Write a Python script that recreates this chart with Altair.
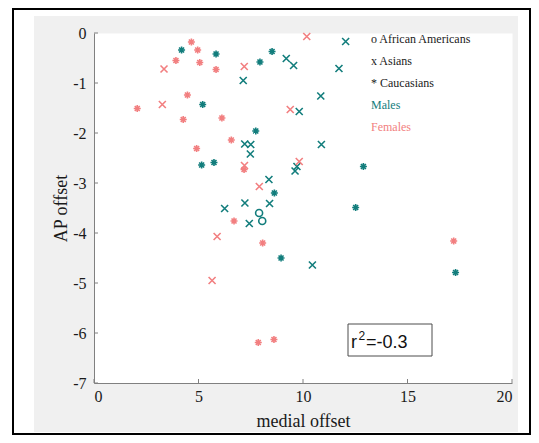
import altair as alt
import pandas as pd

TEAL = "#127d7c"
PINK = "#f27f80"
AXC = "#808080"
SERIF = "Liberation Serif"
SANS = "Liberation Sans"

# ---- data ----
male_cauc_x = [4.19, 5.84, 8.52, 7.94, 5.20, 7.74, 5.15, 5.74, 8.63, 8.95, 12.52, 17.30, 12.89]
male_cauc_y = [-0.34, -0.42, -0.37, -0.58, -1.43, -1.96, -2.64, -2.59, -3.20, -4.50, -3.49, -4.79, -2.67]

male_aa_x = [7.90, 8.05]
male_aa_y = [-3.60, -3.76]

male_asian_x = [9.20, 9.55, 7.14, 9.82, 7.21, 7.50, 7.48, 9.71, 9.62, 12.04, 11.72, 10.85,
                10.88, 8.37, 6.25, 7.22, 8.40, 7.43, 10.45]
male_asian_y = [-0.51, -0.65, -0.95, -1.57, -2.22, -2.23, -2.42, -2.67, -2.76, -0.17, -0.71, -1.26,
                -2.23, -2.93, -3.51, -3.40, -3.41, -3.81, -4.64]

female_cauc_x = [4.66, 4.96, 3.92, 5.06, 5.84, 4.47, 2.07, 4.27, 6.12, 6.57, 4.91, 7.18,
                 6.70, 8.07, 7.86, 8.61, 17.21]
female_cauc_y = [-0.18, -0.34, -0.55, -0.59, -0.73, -1.24, -1.51, -1.73, -1.70, -2.14, -2.31, -2.73,
                 -3.76, -4.20, -6.19, -6.13, -4.16]

female_asian_x = [3.35, 7.19, 3.27, 9.39, 10.18, 9.82, 7.20, 7.91, 5.89, 5.65]
female_asian_y = [-0.72, -0.67, -1.43, -1.53, -0.07, -2.57, -2.65, -3.07, -4.07, -4.95]

groups = ["African Americans", "Asians", "Caucasians"]
sexes = ["Males", "Females"]
x_ticks = [0, 5, 10, 15, 20]
y_ticks = [-7, -6, -5, -4, -3, -2, -1, 0]
legend_labels = ["o African Americans", "x Asians", "* Caucasians", "Males", "Females"]
legend_colors = ["#1a1a1a", "#1a1a1a", "#1a1a1a", TEAL, PINK]
r2_value = "=-0.3"

rows = []
def add(xs, ys, sex, group):
    for a, b in zip(xs, ys):
        rows.append({"x": a, "y": b, "sex": sex, "group": group})

add(male_cauc_x, male_cauc_y, "Males", "Caucasians")
add(male_asian_x, male_asian_y, "Males", "Asians")
add(male_aa_x, male_aa_y, "Males", "African Americans")
add(female_cauc_x, female_cauc_y, "Females", "Caucasians")
add(female_asian_x, female_asian_y, "Females", "Asians")
df = pd.DataFrame(rows)

W, H = 418, 350
xscale = alt.Scale(domain=[0, 20], nice=False, zero=False)
yscale = alt.Scale(domain=[-7, 0], nice=False, zero=False)

xaxis = alt.Axis(values=x_ticks, title="medial offset", titleX=209, titleY=38,
                 titleBaseline="middle", titleAlign="center", labelPadding=5,
                 ticks=False, grid=False, domainColor=AXC,
                 labelFont=SERIF, labelFontSize=16, labelColor="#1a1a1a",
                 labelExpr="'' + datum.value",
                 titleFont=SERIF, titleFontSize=18, titleFontWeight="normal", titleColor="#1a1a1a")
yaxis = alt.Axis(values=y_ticks, title="AP offset", titleAngle=270, titleX=-33, titleY=175,
                 titleAlign="center", titleBaseline="middle", labelPadding=8,
                 ticks=False, grid=False, domainColor=AXC,
                 labelFont=SERIF, labelFontSize=16, labelColor="#1a1a1a",
                 labelExpr="'' + datum.value",
                 titleFont=SERIF, titleFontSize=18, titleFontWeight="normal", titleColor="#1a1a1a")

STAR = "M-1,0L1,0M0,-1L0,1M-0.71,-0.71L0.71,0.71M-0.71,0.71L0.71,-0.71"
XPATH = "M-1,-1L1,1M-1,1L1,-1"

one = alt.Data(values=[{}])

points = alt.Chart(df).mark_point(filled=False, size=49, opacity=1).encode(
    x=alt.X("x:Q", scale=xscale, axis=xaxis),
    y=alt.Y("y:Q", scale=yscale, axis=yaxis),
    color=alt.Color("sex:N", scale=alt.Scale(domain=sexes, range=[TEAL, PINK]), legend=None),
    shape=alt.Shape("group:N", scale=alt.Scale(domain=groups, range=["circle", XPATH, STAR]), legend=None),
    strokeWidth=alt.StrokeWidth("group:N", scale=alt.Scale(domain=groups, range=[1.6, 1.6, 2.6]), legend=None),
)

xt = alt.Chart(pd.DataFrame({"x": x_ticks})).mark_rule(color=AXC, strokeWidth=1).encode(
    x=alt.X("x:Q", scale=xscale, axis=xaxis), y=alt.value(H), y2=alt.value(H - 4))
yt = alt.Chart(pd.DataFrame({"y": y_ticks})).mark_rule(color=AXC, strokeWidth=1).encode(
    y=alt.Y("y:Q", scale=yscale, axis=yaxis), x=alt.value(0), x2=alt.value(4))

def rect(x1, x2, y1, y2, **kw):
    return alt.Chart(one).mark_rect(**kw).encode(
        x=alt.value(x1), x2=alt.value(x2), y=alt.value(y1), y2=alt.value(y2))

strips = [
    rect(-90, -60, -30, 410, color="white"),
    rect(424, 440, -30, 410, color="white"),
    rect(-90, 440, -30, -17, color="white"),
    rect(-90, 440, 399, 410, color="white"),
]
frame = rect(-81, 436, -24, 401, filled=False, stroke="black", strokeWidth=2)
r2box = rect(254, 338, 291, 323, fill="white", stroke="#4d4d4d", strokeWidth=1)

def text(t, x, y, size, color, font, baseline="middle"):
    return alt.Chart(one).mark_text(text=t, font=font, fontSize=size, color=color,
                                    align="left", baseline=baseline).encode(
        x=alt.value(x), y=alt.value(y))

legend = [text(lbl, 277, 6 + i * 21.9, 12, c, SERIF) for i, (lbl, c) in enumerate(zip(legend_labels, legend_colors))]
r2 = [
    text("r", 257, 315, 18, "#111", SANS, "alphabetic"),
    text("2", 264.5, 307, 12, "#111", SANS, "alphabetic"),
    text(r2_value, 272, 315, 18, "#111", SANS, "alphabetic"),
]

chart = alt.layer(points, xt, yt, *strips, frame, r2box, *r2, *legend).properties(
    width=W, height=H,
    autosize=alt.AutoSizeParams(type="none"),
    padding={"left": 86, "top": 25, "right": 19, "bottom": 52},
    background="#f0f0f0",
).configure_view(fill="white", stroke="transparent").configure_axis(
    labelFont=SERIF, titleFont=SERIF
)

chart.save("out.html", embed_options={"renderer": "svg", "actions": False})
